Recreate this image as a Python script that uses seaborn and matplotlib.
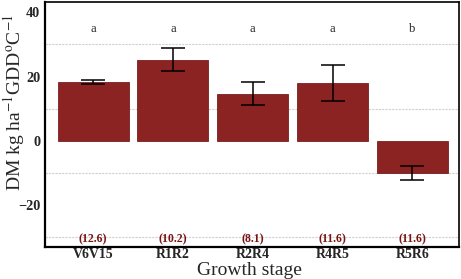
import matplotlib
matplotlib.use("Agg")
import matplotlib.pyplot as plt
import seaborn as sns
import pandas as pd

# values
stages = ["V6V15", "R1R2", "R2R4", "R4R5", "R5R6"]
rate = [18.3, 25.2, 14.7, 17.9, -10.0]
err_low = [17.7, 21.8, 11.2, 12.4, -12.3]
err_high = [19.0, 28.8, 18.4, 23.5, -7.8]
letters = ["a", "a", "a", "a", "b"]
cv = ["(12.6)", "(10.2)", "(8.1)", "(11.6)", "(11.6)"]

df = pd.DataFrame({"stage": stages, "rate": rate})

sns.set_style("white")
plt.rcParams["font.family"] = ["Liberation Serif", "DejaVu Serif"]
plt.rcParams["mathtext.fontset"] = "stix"

fig, ax = plt.subplots(figsize=(4.61, 2.79), dpi=100)
sns.barplot(data=df, x="stage", y="rate", color="#8B2323", saturation=1,
            width=0.89, edgecolor="#7a1e1e", linewidth=0.6, ax=ax)

yerr = [[r - l for r, l in zip(rate, err_low)], [h - r for r, h in zip(rate, err_high)]]
ax.errorbar(range(len(stages)), rate, yerr=yerr, fmt="none", ecolor="black",
            elinewidth=1.1, capsize=8.5, capthick=1.1, zorder=5)

for i, (lt, c) in enumerate(zip(letters, cv)):
    ax.text(i, 34.7, lt, ha="center", va="center", fontsize=9)
    ax.text(i, -30.6, c, ha="center", va="center", fontsize=8.5,
            color="#7a1414", fontweight="bold")

ax.set_xlim(-0.6, 4.58)
ax.set_ylim(-33, 43.2)
ax.set_yticks([-20, 0, 20, 40])
ax.set_yticks([-30, -10, 10, 30], minor=True)
ax.grid(which="minor", axis="y", color="#d0d0d0", linestyle=(0, (2, 1)), linewidth=0.8)
ax.set_axisbelow(True)
ax.tick_params(axis="y", which="minor", length=0)
ax.tick_params(axis="y", which="major", length=2.5, width=1, pad=1)
ax.tick_params(axis="x", which="major", length=1.5, width=1, pad=-0.5)
for lab in ax.get_yticklabels():
    lab.set_fontweight("bold")
    lab.set_fontsize(10.3)
for lab in ax.get_xticklabels():
    lab.set_fontweight("bold")
    lab.set_fontsize(10)

ax.set_xlabel("Growth stage", fontsize=14)
ax.set_ylabel(r"DM kg ha$^{-1}$GDD$^{\mathrm{o}}$C$^{-1}$", fontsize=14)
ax.xaxis.set_label_coords(0.495, -0.06)
ax.yaxis.set_label_coords(-0.045, 0.59)

for side in ["left", "bottom"]:
    ax.spines[side].set_linewidth(1.6)
for side in ["top", "right"]:
    ax.spines[side].set_linewidth(1.2)
for s in ax.spines.values():
    s.set_color("black")

fig.subplots_adjust(left=0.098, right=0.995, top=0.993, bottom=0.115)
fig.savefig("out.png", dpi=100)
